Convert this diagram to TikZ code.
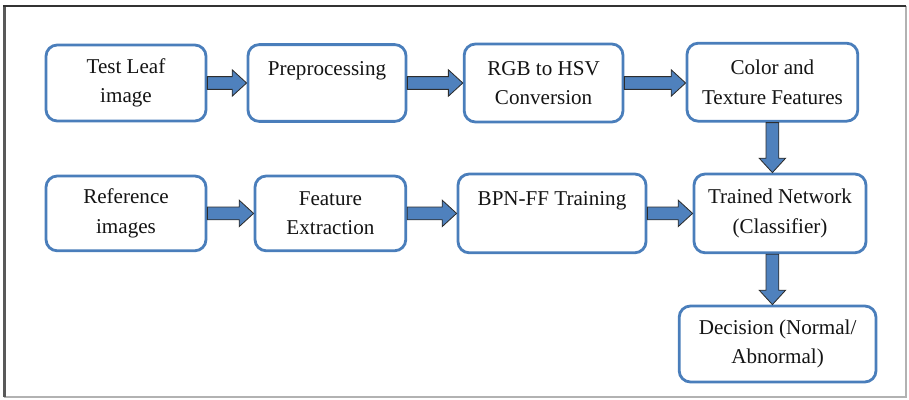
\documentclass[tikz,border=0pt]{standalone}
\usepackage{fontspec}
\setmainfont{Liberation Serif}
\usetikzlibrary{calc}

\definecolor{boxblue}{RGB}{74,126,187}
\definecolor{arrowblue}{RGB}{79,129,189}
\definecolor{arrowline}{RGB}{45,45,45}
\definecolor{textdark}{RGB}{20,20,20}

\tikzset{
  stage/.style={draw=boxblue, line width=2pt, rounded corners=8pt, fill=white,
    align=center, text=textdark, font=\fontsize{15}{21}\selectfont, inner sep=2pt},
  fatarrow/.style={draw=arrowline, fill=arrowblue, line width=0.6pt, line join=miter,
    to path={let \p1=(\tikztostart), \p2=(\tikztotarget),
      \n1={atan2(\y2-\y1,\x2-\x1)} in
      ($(\p1)+(\n1+90:0.16)$)
      -- ($(\p2)+(\n1+180:0.36)+(\n1+90:0.16)$)
      -- ($(\p2)+(\n1+180:0.36)+(\n1+90:0.33)$)
      -- (\p2)
      -- ($(\p2)+(\n1+180:0.36)+(\n1-90:0.33)$)
      -- ($(\p2)+(\n1+180:0.36)+(\n1-90:0.16)$)
      -- ($(\p1)+(\n1-90:0.16)$) -- cycle}}
}

\begin{document}
\begin{tikzpicture}
    \useasboundingbox (0,0) rectangle (22.725,9.975);

    % Outer frame
    \draw[gray!60, line width=1pt] (22.65,9.825) -- (22.65,0.05) -- (0.11,0.05);
    \draw[gray!70!black, line width=2pt] (0.11,0.05) -- (0.11,9.825);
    \draw[black!80, line width=1.2pt] (0.08,9.825) -- (22.65,9.825);

    % Test leaf row
    \node[stage, minimum width=4.0cm, minimum height=1.9cm] (test) at (3.15,7.9) {Test Leaf\\image};
    \node[stage, minimum width=3.95cm, minimum height=1.92cm] (pre) at (8.175,7.9) {Preprocessing\\~};
    \node[stage, minimum width=3.97cm, minimum height=1.95cm] (hsv) at (13.59,7.9) {RGB to HSV\\Conversion};
    \node[stage, minimum width=4.27cm, minimum height=1.95cm] (feat) at (19.31,7.92) {Color and\\Texture Features};

    % Reference row
    \node[stage, minimum width=4.0cm, minimum height=1.87cm] (ref) at (3.15,4.64) {Reference\\images};
    \node[stage, minimum width=3.77cm, minimum height=1.87cm] (extr) at (8.26,4.64) {Feature\\Extraction};
    \node[stage, minimum width=4.7cm, minimum height=1.97cm] (bpn) at (13.8,4.64) {BPN-FF Training\\~};
    \node[stage, minimum width=4.3cm, minimum height=1.97cm] (net) at (19.5,4.64) {Trained Network\\(Classifier)};

    % Output
    \node[stage, minimum width=4.92cm, minimum height=1.9cm] (dec) at (19.44,1.375) {Decision (Normal/\\Abnormal)};

    % Block arrows
    \draw[fatarrow] (test.east) to (pre.west);
    \draw[fatarrow] (pre.east) to (hsv.west);
    \draw[fatarrow] (hsv.east) to (feat.west |- hsv.east);
    \draw[fatarrow] (ref.east) to (extr.west);
    \draw[fatarrow] (extr.east) to (bpn.west);
    \draw[fatarrow] (bpn.east) to (net.west);
    \draw[fatarrow] (feat.south) to (feat.south |- net.north);
    \draw[fatarrow] (net.south -| feat.south) to (dec.north -| feat.south);
\end{tikzpicture}
\end{document}
